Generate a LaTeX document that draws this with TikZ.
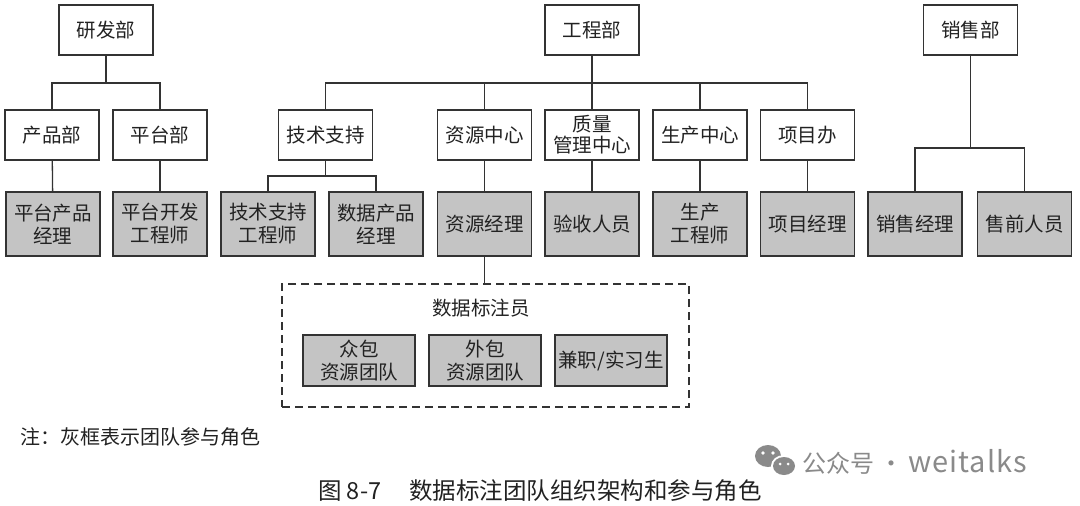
\documentclass[tikz,border=0pt]{standalone}
\usepackage{fontspec}
\setmainfont{Noto Sans CJK SC}
\definecolor{ink}{HTML}{222222}
\definecolor{edge}{HTML}{333333}
\definecolor{boxgray}{HTML}{C4C4C4}
\definecolor{wm}{HTML}{8A8A8A}
\begin{document}
\begin{tikzpicture}[x=1pt,y=-1pt,
  box/.style={draw=edge, line width=1.9pt, fill=white, minimum width=94pt, minimum height=50pt,
    inner sep=0pt, align=center, text=ink, font=\fontsize{19.5}{23}\selectfont},
  gbox/.style={box, fill=boxgray, minimum height=64pt},
  sbox/.style={box, fill=boxgray, minimum width=112pt, minimum height=51pt},
  conn/.style={draw=edge, line width=1.3pt},
  pooldash/.style={draw=edge, line width=1.5pt, dash pattern=on 8pt off 5pt}]
\useasboundingbox (0,0) rectangle (1080,506);
\fill[white] (0,0) rectangle (1080,506);
% top level
\node[box] (yf) at (106,30) {研发部};
\node[box] (gc) at (592,30) {工程部};
\node[box] (xs) at (970.5,30) {销售部};
% second level
\node[box] (cp) at (52,135) {产品部};
\node[box] (pt) at (160,135) {平台部};
\node[box] (js) at (325.5,135) {技术支持};
\node[box] (zy) at (484.5,135) {资源中心};
\node[box] (zl) at (592,135) {质量\\[-2pt]管理中心};
\node[box] (sc) at (700,135) {生产中心};
\node[box] (xm) at (807.5,135) {项目办};
% third level (gray)
\node[gbox] (ptcp) at (53,224) {平台产品\\经理};
\node[gbox] (ptkf) at (160,224) {平台开发\\工程师};
\node[gbox] (jsg) at (268,224) {技术支持\\工程师};
\node[gbox] (sjcp) at (376,224) {数据产品\\经理};
\node[gbox] (zyjl) at (484.5,224) {资源经理};
\node[gbox] (ysry) at (592,224) {验收人员};
\node[gbox] (scgc) at (700,224) {生产\\工程师};
\node[gbox] (xmjl) at (807.5,224) {项目经理};
\node[gbox] (xsjl) at (915,224) {销售经理};
\node[gbox] (sqry) at (1024.5,224) {售前人员};
% annotator pool
\node[pooldash, minimum width=407pt, minimum height=123pt, inner sep=0pt] (pool) at (485.5,345.5) {};
\node[text=ink, font=\fontsize{19.5}{23}\selectfont] (pooltitle) at (481,308) {数据标注员};
\node[sbox] (zb) at (359,360.5) {众包\\资源团队};
\node[sbox] (wb) at (485,360.5) {外包\\资源团队};
\node[sbox] (jz) at (611,360.5) {兼职/实习生};
% connectors
\coordinate (yfj) at (106,83);
\draw[conn] (yf) -- (yfj);
\draw[conn] (cp.north) |- (yfj) -| (pt.north);
\coordinate (gcj) at (592,83);
\draw[conn] (gc) -- (zl);
\draw[conn] (js.north) |- (gcj) -| (xm.north);
\draw[conn] (zy.north) -- (zy.north |- gcj);
\draw[conn] (sc.north) -- (sc.north |- gcj);
\coordinate (xsj) at (970.5,148);
\draw[conn] (xs) -- (xsj);
\draw[conn] (xsjl.north) |- (xsj) -| (sqry.north);
\draw[conn] (cp) -- (ptcp);
\draw[conn] (pt) -- (ptkf);
\coordinate (jsj) at (325.5,176);
\draw[conn] (js) -- (jsj);
\draw[conn] (jsg.north) |- (jsj) -| (sjcp.north);
\draw[conn] (zy) -- (zyjl);
\draw[conn] (zl) -- (ysry);
\draw[conn] (sc) -- (scgc);
\draw[conn] (xm) -- (xmjl);
\draw[conn] (zyjl.south) -- (zyjl.south |- pool.north);
% note and caption
\node[anchor=west, text=ink, font=\fontsize{20}{24}\selectfont, inner sep=0pt] (note) at (20,437) {注：灰框表示团队参与角色};
\node[anchor=west, text=ink, font=\fontsize{23.5}{27}\selectfont, inner sep=0pt] (caption) at (318,491) {图 8-7\hspace{28pt}数据标注团队组织架构和参与角色};
% watermark
\fill[wm] (768,456) ellipse [x radius=13, y radius=11];
\fill[white] (784,466) ellipse [x radius=13, y radius=11];
\fill[wm] (784,466) ellipse [x radius=11, y radius=9];
\fill[white] (763,453) circle (1.8) (773,453) circle (1.8);
\fill[white] (780,464) circle (1.5) (788,464) circle (1.5);
\node[anchor=west, text=wm, font=\fontsize{24}{28}\selectfont, inner sep=0pt] (wmtext) at (802,462) {公众号 · {\fontsize{29}{30}\selectfont\addfontfeature{LetterSpace=3}weitalks}};
\end{tikzpicture}
\end{document}
